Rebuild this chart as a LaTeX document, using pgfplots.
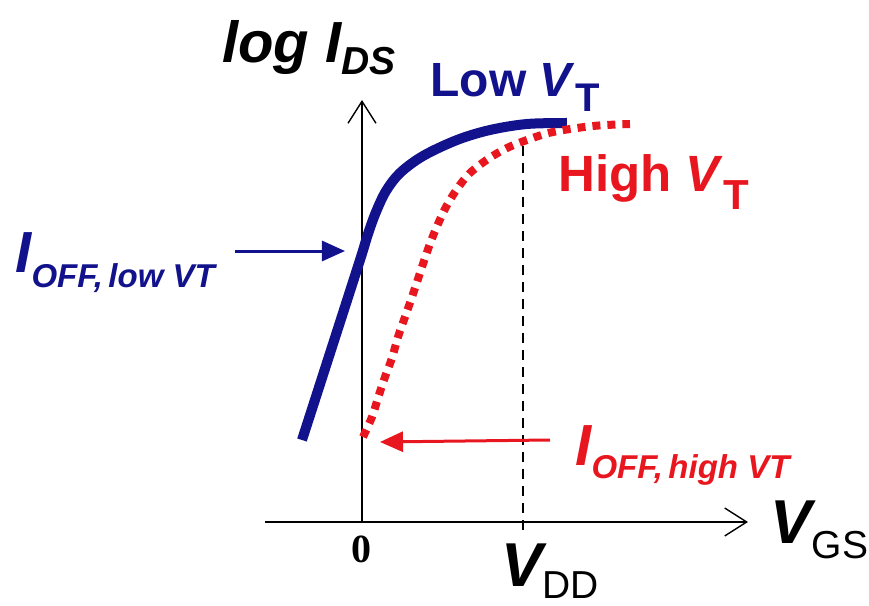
\documentclass[border=0pt]{standalone}
\usepackage{fontspec}
\setmainfont{Liberation Sans}
\newfontfamily\seriffont{Liberation Serif}
\usepackage{pgfplots}
\pgfplotsset{compat=1.18}
\usetikzlibrary{arrows.meta}
\definecolor{navyC}{RGB}{18,18,140}
\definecolor{redC}{RGB}{232,22,30}
\begin{document}
\begin{tikzpicture}
\begin{axis}[
  scale only axis, width=241.5pt, height=211pt,
  xmin=-97, xmax=386, ymin=0, ymax=422,
  axis lines=middle,
  axis line style={black, line width=0.9pt, -{Straight Barb[length=11pt,width=14pt,line width=0.7pt]}},
  xtick=\empty, ytick=\empty,
  clip=false,
]
% bounding box of the full picture
\path (axis cs:-362,-84) rectangle (axis cs:507,522);
% VDD dashed line
\addplot[black, line width=0.8pt, dash pattern=on 5pt off 3.5pt] coordinates {(161,-8) (161,384)};
% Low VT curve
\addplot[navyC, line width=5pt, smooth, tension=0.55] coordinates {
(-60,82) (-30,175) (-2,262) (6,288) (14,310) (24,331) (38,349) (61,366) (95,382) (128,392) (165,398) (205,399)};
% High VT curve
\addplot[redC, line width=4pt, dash pattern=on 4pt off 3.5pt, smooth, tension=0.55] coordinates {
(1,85) (10,105) (16,124) (23,145) (30,164) (36,185) (43,205) (50,225) (57,246) (63,264) (69,281) (76,298) (84,315) (95,333) (108,349) (126,363) (145,374) (165,382) (191,390) (231,396) (268,398)};
% arrows
\draw[navyC, line width=1.5pt, -{Triangle[length=11.5pt,width=10pt]}] (axis cs:-127,271) -- (axis cs:-17,271);
\draw[redC, line width=1.5pt, -{Triangle[length=11.5pt,width=10pt]}] (axis cs:188,82) -- (axis cs:18,80);
% labels
\node[anchor=base west, inner sep=0] at (axis cs:-140,459) {\fontsize{29}{29}\selectfont\bfseries\itshape log I\raisebox{-6pt}{\fontsize{19.5}{19.5}\selectfont DS}};
\node[anchor=base west, inner sep=0, text=navyC] at (axis cs:68,425) {\fontsize{24}{24}\selectfont\bfseries Low \textit{V}\raisebox{-7.5pt}{\fontsize{20}{20}\selectfont T}};
\node[anchor=base west, inner sep=0, text=redC] at (axis cs:196,330) {\fontsize{25.5}{25.5}\selectfont\bfseries High \textit{V}\raisebox{-9pt}{\fontsize{21}{21}\selectfont T}};
\node[anchor=base west, inner sep=0, text=navyC] at (axis cs:-347,250) {\fontsize{29}{29}\selectfont\bfseries\itshape I\raisebox{-8pt}{\fontsize{16.5}{16.5}\selectfont OFF,\,low VT}};
\node[anchor=base west, inner sep=0, text=redC] at (axis cs:213,57) {\fontsize{29}{29}\selectfont\bfseries\itshape I\raisebox{-6.5pt}{\fontsize{16.5}{16.5}\selectfont OFF,\,high VT}};
\node[anchor=base west, inner sep=0] at (axis cs:408,-21) {\fontsize{31}{31}\selectfont\bfseries\itshape V\raisebox{-7.5pt}{\fontsize{19.5}{19.5}\selectfont\normalfont GS}};
\node[anchor=base, inner sep=0] at (axis cs:0,-40) {\fontsize{20}{20}\selectfont\seriffont\bfseries 0};
\node[anchor=base west, inner sep=0] at (axis cs:139,-64) {\fontsize{31}{31}\selectfont\bfseries\itshape V\raisebox{-6pt}{\fontsize{19.5}{19.5}\selectfont\normalfont DD}};
\end{axis}
\end{tikzpicture}
\end{document}
